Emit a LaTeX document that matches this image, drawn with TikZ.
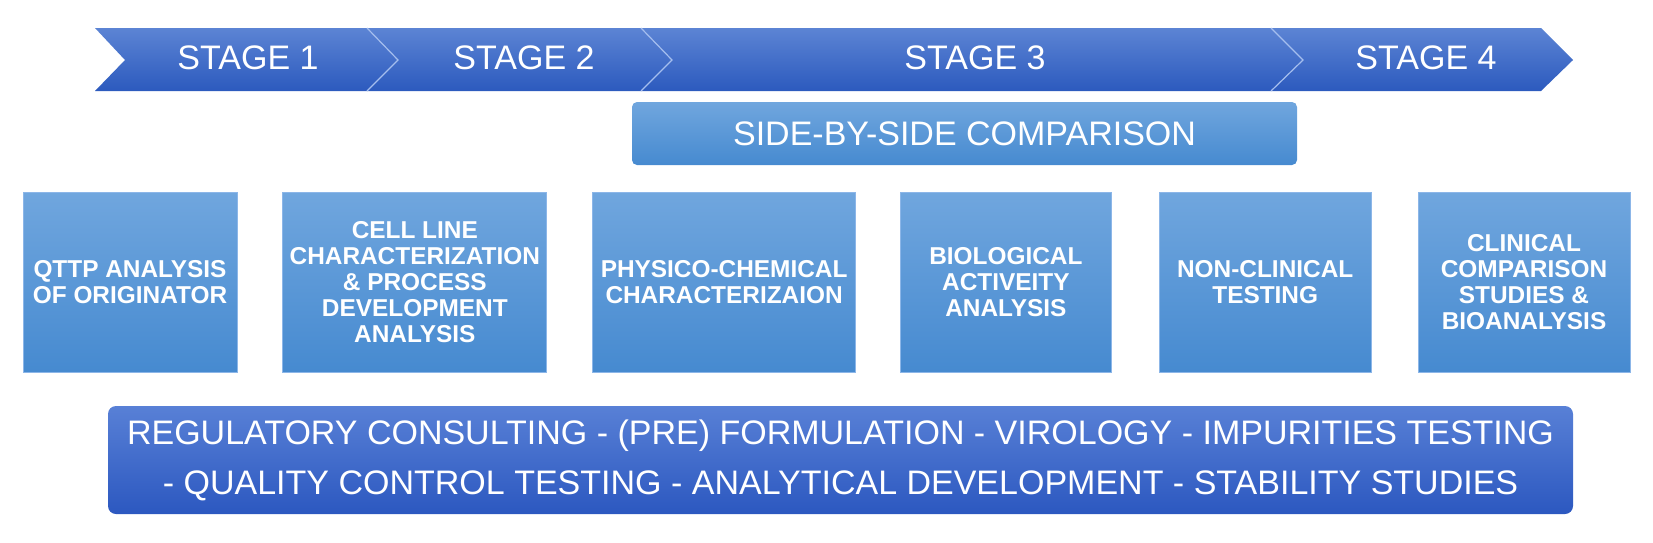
\documentclass[tikz,border=0pt]{standalone}
\usepackage{fontspec}
\setmainfont{Liberation Sans}
\usetikzlibrary{positioning}
\definecolor{bandtop}{RGB}{92,132,212}
\definecolor{bandbot}{RGB}{44,90,190}
\definecolor{boxtop}{RGB}{112,166,222}
\definecolor{boxbot}{RGB}{70,138,208}
\definecolor{boxline}{RGB}{140,182,232}
\definecolor{divline}{RGB}{165,190,238}
\definecolor{basetop}{RGB}{88,128,214}
\definecolor{basebot}{RGB}{44,88,192}

\begin{document}
\begin{tikzpicture}[x=1pt, y=-1pt, node distance=45pt]

\tikzstyle{stage} = [text=white, inner sep=0pt, font=\fontsize{34}{38}\selectfont]
\tikzstyle{task} = [rectangle, minimum height=180pt, inner sep=0pt, top color=boxtop, bottom color=boxbot, draw=boxline, line width=0.8pt, text=white, align=center, font=\bfseries\fontsize{24.4}{25.8}\selectfont]
\tikzstyle{banner} = [rectangle, rounded corners=5pt, inner sep=0pt, text=white, align=center, font=\fontsize{34}{50}\selectfont]
\tikzstyle{divider} = [draw=divline, line width=1.2pt]

\useasboundingbox (0,0) rectangle (1653,542);

% stage band
\shade [top color=bandtop, bottom color=bandbot] (95,28) -- (1541,28) -- (1573,60) -- (1541,91) -- (95,91) -- (125,60) -- cycle;
\draw [divider] (367,28) -- (398,60) -- (367,91);
\draw [divider] (641,28) -- (672,60) -- (641,91);
\draw [divider] (1271,28) -- (1303,60) -- (1271,91);

\node (s1) [stage] at (248,58) {STAGE 1};
\node (s2) [stage] at (524,58) {STAGE 2};
\node (s3) [stage] at (975,58) {STAGE 3};
\node (s4) [stage] at (1426,58) {STAGE 4};

\node (cmp) [banner, top color=boxtop, bottom color=boxbot, minimum width=665pt, minimum height=63pt] at (964.5,133.5) {SIDE-BY-SIDE COMPARISON};

% analysis boxes
\node (qttp) [task, minimum width=214pt] at (130,282) {QTTP ANALYSIS\\OF ORIGINATOR};
\node (cell) [task, minimum width=264pt, right=45pt of qttp] {CELL LINE\\CHARACTERIZATION\\\& PROCESS\\DEVELOPMENT\\ANALYSIS};
\node (phys) [task, minimum width=263pt, right=45pt of cell] {PHYSICO-CHEMICAL\\CHARACTERIZAION};
\node (bio) [task, minimum width=211pt, right=44pt of phys] {BIOLOGICAL\\ACTIVEITY\\ANALYSIS};
\node (nonc) [task, minimum width=212pt, right=47pt of bio] {NON-CLINICAL\\TESTING};
\node (clin) [task, minimum width=212pt, right=46pt of nonc] {CLINICAL\\COMPARISON\\STUDIES \&\\BIOANALYSIS};

\node (base) [banner, rounded corners=8pt, top color=basetop, bottom color=basebot, minimum width=1465pt, minimum height=108pt] at (840.5,460) {REGULATORY CONSULTING - (PRE) FORMULATION - VIROLOGY - IMPURITIES TESTING\\- QUALITY CONTROL TESTING - ANALYTICAL DEVELOPMENT - STABILITY STUDIES};
\end{tikzpicture}
\end{document}
